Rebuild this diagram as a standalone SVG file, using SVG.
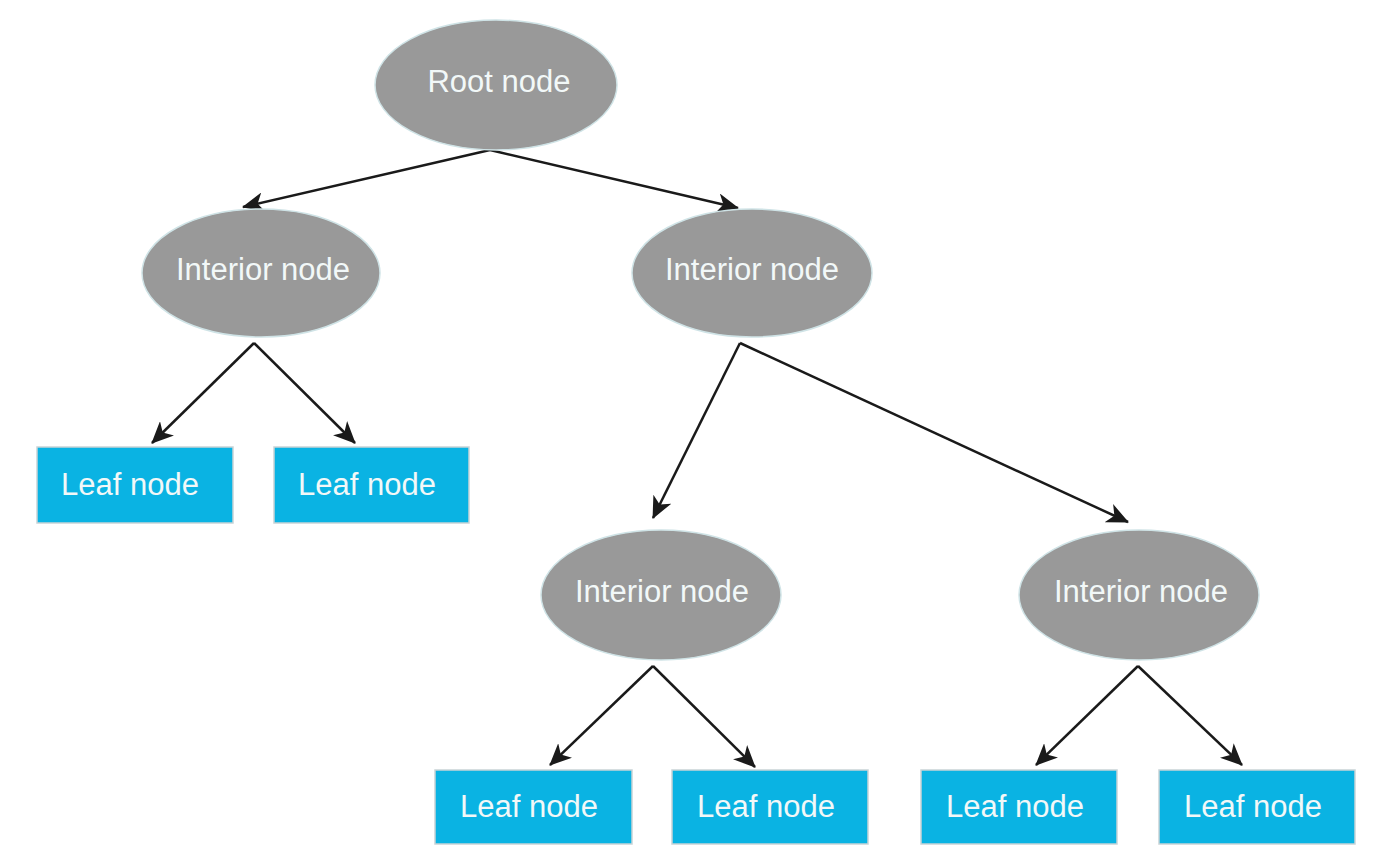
<svg xmlns="http://www.w3.org/2000/svg" width="1382" height="866" viewBox="0 0 1382 866">
  <defs>
    <marker id="arrow" markerUnits="userSpaceOnUse" markerWidth="22" markerHeight="20" refX="21" refY="10" orient="auto">
      <path d="M0,0 L22,10 L0,20 L6,10 z" fill="#1a1a1a"/>
    </marker>
  </defs>
  <style>
    .interior ellipse { fill: #999999; stroke: #cfe3e6; stroke-width: 1.5; }
    .leaf rect { fill: #0ab3e3; stroke: #c9d3d6; stroke-width: 1.5; }
    .label { font-family: "Liberation Sans", Arial, sans-serif; font-size: 31px; fill: #f2f8f8; }
    .mid { text-anchor: middle; }
    #connectors line { stroke: #1a1a1a; stroke-width: 2.5; fill: none; marker-end: url(#arrow); }
  </style>
  <rect x="0" y="0" width="1382" height="866" fill="#ffffff"/>

  <g id="connectors">
    <line x1="490" y1="150" x2="243" y2="207"/>
    <line x1="490" y1="150" x2="738" y2="208"/>
    <line x1="254" y1="343" x2="152" y2="443"/>
    <line x1="254" y1="343" x2="355" y2="443"/>
    <line x1="740" y1="343" x2="653" y2="518"/>
    <line x1="740" y1="343" x2="1128" y2="522"/>
    <line x1="653" y1="666" x2="550" y2="765"/>
    <line x1="653" y1="666" x2="755" y2="767"/>
    <line x1="1138" y1="666" x2="1036" y2="765"/>
    <line x1="1138" y1="666" x2="1242" y2="765"/>
  </g>

  <g id="root" class="interior">
    <ellipse cx="496" cy="85" rx="121" ry="65"/>
    <text class="label mid" x="499" y="92">Root node</text>
  </g>

  <g id="interior1" class="interior">
    <ellipse cx="261" cy="273" rx="119" ry="64"/>
    <text class="label mid" x="263" y="280">Interior node</text>
  </g>
  <g id="interior2" class="interior">
    <ellipse cx="752" cy="273" rx="120" ry="64"/>
    <text class="label mid" x="752" y="280">Interior node</text>
  </g>
  <g id="interior3" class="interior">
    <ellipse cx="661" cy="595" rx="120" ry="65"/>
    <text class="label mid" x="662" y="602">Interior node</text>
  </g>
  <g id="interior4" class="interior">
    <ellipse cx="1139" cy="595" rx="120" ry="65"/>
    <text class="label mid" x="1141" y="602">Interior node</text>
  </g>

  <g id="leaf1" class="leaf">
    <rect x="37" y="447" width="196" height="76"/>
    <text class="label" x="61" y="495">Leaf node</text>
  </g>
  <g id="leaf2" class="leaf">
    <rect x="274" y="447" width="195" height="76"/>
    <text class="label" x="298" y="495">Leaf node</text>
  </g>
  <g id="leaf3" class="leaf">
    <rect x="435" y="770" width="197" height="74"/>
    <text class="label" x="460" y="817">Leaf node</text>
  </g>
  <g id="leaf4" class="leaf">
    <rect x="672" y="770" width="196" height="74"/>
    <text class="label" x="697" y="817">Leaf node</text>
  </g>
  <g id="leaf5" class="leaf">
    <rect x="921" y="770" width="196" height="74"/>
    <text class="label" x="946" y="817">Leaf node</text>
  </g>
  <g id="leaf6" class="leaf">
    <rect x="1159" y="770" width="196" height="74"/>
    <text class="label" x="1184" y="817">Leaf node</text>
  </g>
</svg>
